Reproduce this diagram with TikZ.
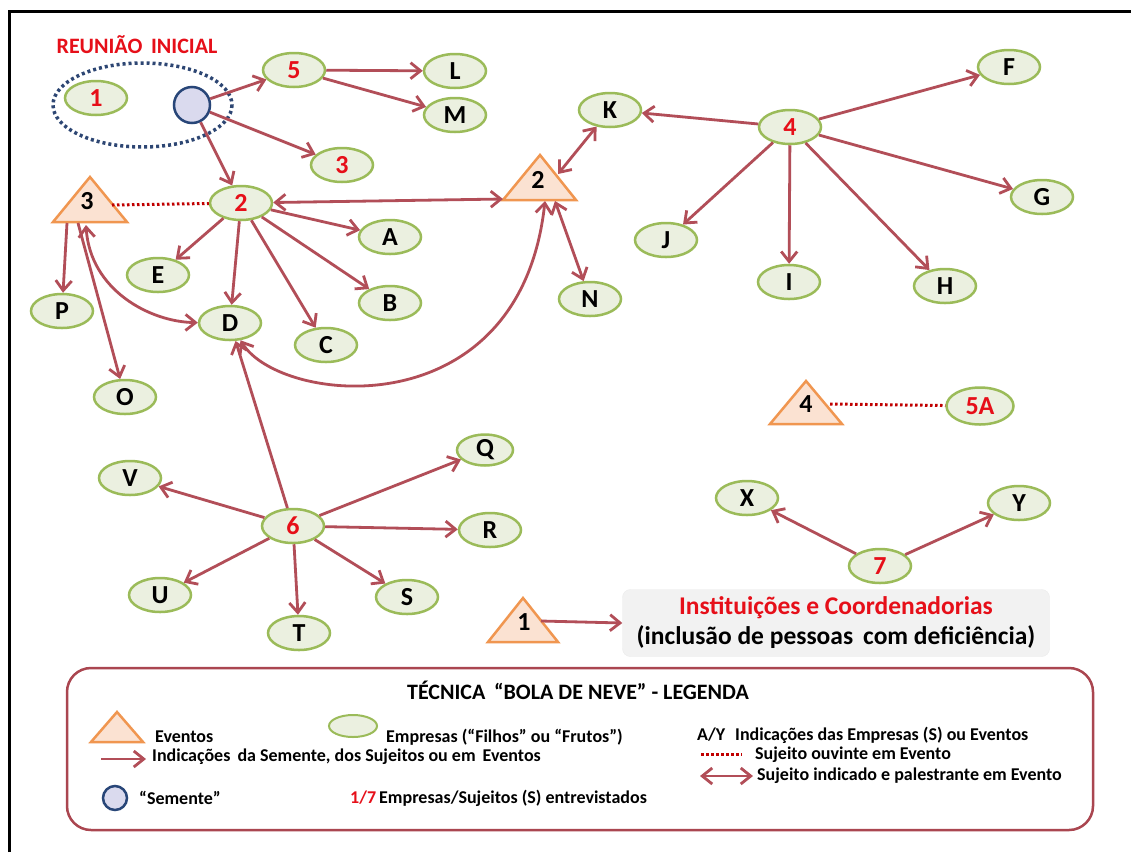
\documentclass[tikz,border=0pt]{standalone}
\usepackage{fontspec}
\setmainfont{Carlito}
\usetikzlibrary{arrows.meta,shapes.geometric}
\definecolor{arrc}{RGB}{178,78,88}
\definecolor{empfill}{RGB}{235,240,224}
\definecolor{empdraw}{RGB}{155,187,89}
\definecolor{trifill}{RGB}{251,226,210}
\definecolor{tridraw}{RGB}{240,150,80}
\definecolor{redtxt}{RGB}{230,15,25}
\definecolor{dotred}{RGB}{192,0,0}
\definecolor{seedfill}{RGB}{218,218,238}
\definecolor{seeddraw}{RGB}{40,70,120}
\definecolor{dotblue}{RGB}{45,70,115}
\definecolor{legdraw}{RGB}{170,70,80}
\definecolor{boxfill}{RGB}{242,242,242}
\begin{document}
\begin{tikzpicture}[x=1pt,y=-1pt,
  emp/.style={ellipse, draw=empdraw, fill=empfill, line width=2.5pt,
    minimum width=62pt, minimum height=34pt, inner sep=0pt,
    font=\fontsize{26}{26}\selectfont\bfseries},
  rl/.style={text=redtxt},
  tri/.style={draw=tridraw, fill=trifill, line width=2.5pt, line join=miter},
  trilbl/.style={inner sep=0pt, font=\fontsize{26}{26}\selectfont\bfseries},
  arr/.style={draw=arrc, line width=2.8pt, -{Straight Barb[length=10pt,width=16pt]}},
  darr/.style={draw=arrc, line width=2.8pt, {Straight Barb[length=10pt,width=16pt]}-{Straight Barb[length=10pt,width=16pt]}},
  dotline/.style={draw=dotred, line width=3pt, dash pattern=on 2.5pt off 2.5pt},
  legtxt/.style={anchor=west, inner sep=0pt, font=\fontsize{18}{20}\selectfont\bfseries},
]
\useasboundingbox (0,0) rectangle (1131,852);
\fill[white] (0,0) rectangle (1131,852);
% frame
\draw[line width=3pt] (9,852) -- (9,11) -- (1131,11);

% Reuniao inicial
\node[text=redtxt, font=\fontsize{22}{22}\selectfont\bfseries] (reun) at (137,45) {REUNIÃO\, INICIAL};
\draw[draw=dotblue, line width=3.5pt, dash pattern=on 3pt off 3pt] (142.5,105) ellipse [x radius=89.5, y radius=42];
\node[emp, rl] (n1) at (96,98) {1};
\node[circle, draw=seeddraw, fill=seedfill, line width=2.5pt, minimum size=36pt, inner sep=0pt] (seed) at (192,105) {};

% ellipses
\node[emp, rl] (n5) at (294,70) {5};
\node[emp] (L) at (455,71) {L};
\node[emp] (M) at (455,115) {M};
\node[emp, rl] (r3) at (342,165) {3};
\node[emp, rl] (n2) at (241,203) {2};
\node[emp] (A) at (390,237) {A};
\node[emp] (E) at (158,275) {E};
\node[emp] (D) at (230,323) {D};
\node[emp] (B) at (390,303) {B};
\node[emp] (C) at (326,345) {C};
\node[emp] (P) at (62,311) {P};
\node[emp] (O) at (125,397) {O};
\node[emp] (N) at (590,299) {N};
\node[emp] (K) at (610,110) {K};
\node[emp, rl] (n4) at (790,127) {4};
\node[emp] (F) at (1009,67) {F};
\node[emp] (G) at (1042,197) {G};
\node[emp] (J) at (666,240) {J};
\node[emp] (I) at (789,282) {I};
\node[emp] (H) at (945,286) {H};
\node[emp, rl, minimum width=67pt, minimum height=37pt] (n5A) at (980,406) {5A};
\node[emp] (V) at (130,478) {V};
\node[emp, rl] (n6) at (293,526) {6};
\node[emp, minimum width=56pt, minimum height=31pt] (Q) at (485,450) {Q};
\node[emp] (R) at (490,530) {R};
\node[emp] (U) at (160,595) {U};
\node[emp] (T) at (299,633) {T};
\node[emp] (S) at (407,597) {S};
\node[emp] (X) at (747,498) {X};
\node[emp] (Y) at (1019,503) {Y};
\node[emp, rl] (n7) at (880,566) {7};

% triangles
\draw[tri] (53,222) -- (90,177) -- (127,222) -- cycle;
\node[trilbl] (t3) at (87,201) {3};
\coordinate (t3r) at (112,205);
\coordinate (t3p) at (67,223);
\coordinate (t3o) at (78,223);
\coordinate (t3d) at (86,225);

\draw[tri] (503,200) -- (540,155) -- (576,200) -- cycle;
\node[trilbl] (t2) at (538,180) {2};
\coordinate (t2l) at (503,199);
\coordinate (t2k) at (558,174);
\coordinate (t2d) at (545,201);
\coordinate (t2n) at (555,201);

\draw[tri] (770,424) -- (806,381) -- (842,424) -- cycle;
\node[trilbl] (t4) at (806,404) {4};
\coordinate (t4r) at (830,404);

\draw[tri] (488,642) -- (523,598) -- (558,642) -- cycle;
\node[trilbl] (t1) at (524,622) {1};
\coordinate (t1r) at (541,621);

% institution box
\node[draw=black!8, fill=boxfill, rounded corners=8pt, minimum width=427pt, minimum height=67pt,
  align=center, inner sep=0pt, font=\fontsize{25.5}{30}\selectfont\bfseries] (inst) at (836,623)
  {\textcolor{redtxt}{Instituições e Coordenadorias}\\(inclusão de pessoas\, com deficiência)};

% connectors
\draw[arr] (seed) -- (n5);
\draw[arr] (seed) -- (r3);
\draw[arr] (seed) -- (n2);
\draw[arr] (n5) -- (L);
\draw[arr] (n5) -- (M);
\draw[dotline] (t3r) -- (n2);
\draw[darr] (n2) -- (t2l);
\draw[arr] (n2) -- (A);
\draw[arr] (n2) -- (E);
\draw[arr] (n2) -- (D);
\draw[arr] (n2) -- (C);
\draw[arr] (n2) -- (B);
\draw[arr] (t3p) -- (P);
\draw[arr] (t3o) -- (O);
\draw[darr] (t3d) .. controls (90,290) and (150,322) .. (D);
\draw[darr] (D) .. controls (280,405) and (520,430) .. (t2d);
\draw[darr] (t2k) -- (K);
\draw[darr] (t2n) -- (N);
\draw[arr] (n4) -- (K);
\draw[arr] (n4) -- (F);
\draw[arr] (n4) -- (G);
\draw[arr] (n4) -- (J);
\draw[arr] (n4) -- (I);
\draw[arr] (n4) -- (H);
\draw[dotline] (t4r) -- (n5A);
\draw[arr] (n6) -- (D);
\draw[arr] (n6) -- (V);
\draw[arr] (n6) -- (Q);
\draw[arr] (n6) -- (R);
\draw[arr] (n6) -- (S);
\draw[arr] (n6) -- (T);
\draw[arr] (n6) -- (U);
\draw[arr] (n7) -- (X);
\draw[arr] (n7) -- (Y);
\draw[arr] (t1r) -- (inst.west);

% legend
\node[draw=legdraw, line width=2.5pt, rounded corners=24pt, minimum width=1026pt, minimum height=162pt, inner sep=0pt] (leg) at (580,749) {};
\node[inner sep=0pt, font=\fontsize{22}{22}\selectfont\bfseries] (legt) at (578,690) {TÉCNICA\, “BOLA DE NEVE” - LEGENDA};
\draw[tri] (91,742) -- (117,712) -- (143,742) -- cycle;
\node[legtxt] (lev) at (155,737) {Eventos};
\draw[draw=empdraw, fill=empfill, line width=2pt] (353,726) ellipse [x radius=24, y radius=11];
\node[legtxt] (lemp) at (386,737) {Empresas (“Filhos” ou “Frutos”)};
\coordinate (la1) at (101,759);
\coordinate (la2) at (146,759);
\draw[arr] (la1) -- (la2);
\node[legtxt] (lind) at (152,757) {Indicações\, da Semente, dos Sujeitos ou em\, Eventos};
\draw[draw=seeddraw, fill=seedfill, line width=2.5pt] (115,798) circle [radius=12];
\node[legtxt] (lsem) at (139,798) {“Semente”};
\node[legtxt] (lent) at (350,798) {\textcolor{redtxt}{1/7}\,Empresas/Sujeitos (S) entrevistados};
\node[legtxt] (lay) at (697,735) {A/Y};
\node[legtxt] (layt) at (735,735) {Indicações das Empresas (S) ou Eventos};
\coordinate (ld1) at (701,754);
\coordinate (ld2) at (742,754);
\draw[dotline] (ld1) -- (ld2);
\node[legtxt] (louv) at (755,755) {Sujeito ouvinte em Evento};
\coordinate (lb1) at (700,776);
\coordinate (lb2) at (753,776);
\draw[darr] (lb1) -- (lb2);
\node[legtxt] (lpal) at (757,776) {Sujeito indicado e palestrante em Evento};
\end{tikzpicture}
\end{document}
